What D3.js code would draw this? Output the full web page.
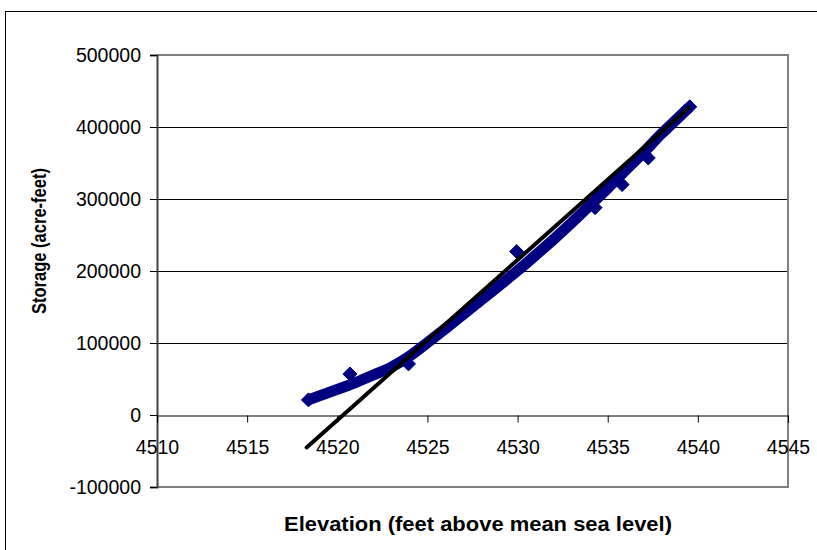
<!DOCTYPE html>
<html>
<head>
<meta charset="utf-8">
<script src="https://cdn.jsdelivr.net/npm/d3@7"></script>
<style>
  html, body { margin: 0; padding: 0; background: #fff; }
  svg { display: block; }
  text { font-family: "Liberation Sans", Arial, sans-serif; fill: #000; }
</style>
</head>
<body>
<svg id="chart" width="817" height="550"></svg>
<script>
// Elevation–storage capacity table (feet, acre-feet)
const tableElevation = [4518.4, 4519, 4520, 4521, 4522, 4523, 4524, 4525, 4526, 4527, 4528,
  4529, 4530, 4531, 4532, 4533, 4534, 4535, 4536, 4537, 4538, 4539, 4539.5];
const tableStorage = [21000, 26500, 35500, 45000, 55500, 66500, 81500, 100500, 120000, 140000, 160000,
  180000, 200500, 222000, 244000, 267000, 291000, 315000, 340000, 365000, 391000, 415000, 427000];

// Surveyed points
const surveyElevation = [4518.4, 4520.7, 4523.95, 4529.95, 4534.3, 4535.8, 4537.25, 4539.55];
const surveyStorage = [21000, 57000, 71000, 227000, 288000, 320000, 357000, 428000];

// Linear trend endpoints
const trendElevation = [4518.3, 4539.5];
const trendStorage = [-45000, 427000];

// Axis ticks
const xTickValues = [4510, 4515, 4520, 4525, 4530, 4535, 4540, 4545];
const yTickValues = [-100000, 0, 100000, 200000, 300000, 400000, 500000];

const svg = d3.select("#chart");
const plot = { left: 157, right: 788, top: 55, bottom: 487 };

const x = d3.scaleLinear().domain([4510, 4545]).range([plot.left, plot.right]);
const y = d3.scaleLinear().domain([-100000, 500000]).range([plot.bottom, plot.top]);

// Outer chart frame
svg.append("rect")
  .attr("x", 5.5).attr("y", 11.5).attr("width", 840).attr("height", 560)
  .attr("fill", "none").attr("stroke", "#000").attr("stroke-width", 1);

// Horizontal gridlines
svg.append("g")
  .selectAll("line")
  .data(yTickValues.filter(v => v > 0 && v < 500000))
  .join("line")
  .attr("x1", plot.left).attr("x2", plot.right)
  .attr("y1", d => Math.round(y(d)) + 0.5).attr("y2", d => Math.round(y(d)) + 0.5)
  .attr("stroke", "#000").attr("stroke-width", 1);

// Plot area border (top, right, bottom)
svg.append("path")
  .attr("d", `M${plot.left},${plot.top} H${plot.right} V${plot.bottom} H${plot.left}`)
  .attr("fill", "none").attr("stroke", "#808080").attr("stroke-width", 2);

const plain = d => String(d);

// Y axis
const yAxis = d3.axisLeft(y).tickValues(yTickValues).tickSize(7).tickPadding(9)
  .tickFormat(plain);
const gy = svg.append("g").attr("transform", `translate(${plot.left},0)`).call(yAxis);
gy.select(".domain").attr("stroke", "#404040").attr("stroke-width", 2);
gy.selectAll(".tick line").attr("stroke", "#000");
gy.selectAll(".tick text")
  .style("font-family", "'Liberation Sans', Arial, sans-serif")
  .style("font-size", "19.5px").attr("fill", "#000");

// X axis crossing at zero storage
const xAxis = d3.axisBottom(x).tickValues(xTickValues).tickSize(7).tickPadding(18)
  .tickFormat(plain);
const gx = svg.append("g").attr("transform", `translate(0,${Math.round(y(0)) + 0.5})`).call(xAxis);
gx.select(".domain").attr("stroke", "#000").attr("stroke-width", 1);
gx.selectAll(".tick line").attr("stroke", "#000");
gx.selectAll(".tick text")
  .style("font-family", "'Liberation Sans', Arial, sans-serif")
  .style("font-size", "19.5px").attr("fill", "#000");

const navy = "#000080";

// Capacity curve
const curveLine = d3.line()
  .x((d, i) => x(tableElevation[i]))
  .y((d, i) => y(tableStorage[i]))
  .curve(d3.curveMonotoneX);
svg.append("path")
  .attr("d", curveLine(tableElevation))
  .attr("fill", "none").attr("stroke", navy)
  .attr("stroke-width", 11).attr("stroke-linejoin", "round");

// Survey diamonds
const diamond = r => `M0,${-r} L${r},0 L0,${r} L${-r},0 Z`;
svg.append("g")
  .selectAll("path")
  .data(surveyElevation)
  .join("path")
  .attr("transform", (d, i) => `translate(${x(d)},${y(surveyStorage[i])})`)
  .attr("d", diamond(7))
  .attr("fill", navy).attr("stroke", navy).attr("stroke-width", 1);

// Linear trend line
const trendLine = d3.line()
  .x((d, i) => x(trendElevation[i]))
  .y((d, i) => y(trendStorage[i]));
svg.append("path")
  .attr("d", trendLine(trendElevation))
  .attr("fill", "none").attr("stroke", "#000")
  .attr("stroke-width", 4).attr("stroke-linecap", "round");

// Axis titles
svg.append("text")
  .attr("x", 478).attr("y", 531)
  .attr("text-anchor", "middle")
  .attr("textLength", 388).attr("lengthAdjust", "spacingAndGlyphs")
  .style("font-size", "19.5px").style("font-weight", "bold")
  .text("Elevation (feet above mean sea level)");

svg.append("text")
  .attr("transform", "translate(46,241) rotate(-90)")
  .attr("text-anchor", "middle")
  .attr("textLength", 146).attr("lengthAdjust", "spacingAndGlyphs")
  .style("font-size", "19.5px").style("font-weight", "bold")
  .text("Storage (acre-feet)");
</script>
</body>
</html>
